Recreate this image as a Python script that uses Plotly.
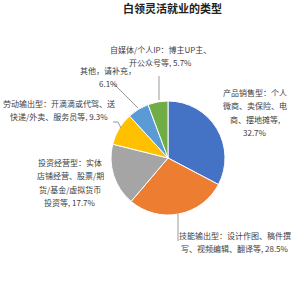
import plotly.graph_objects as go

title = "白领灵活就业的类型"
categories = ["产品销售型", "技能输出型", "投资经营型", "劳动输出型", "其他", "自媒体/个人IP"]
values = [32.7, 28.5, 17.7, 9.3, 6.1, 5.7]
colors = ["#4472C4", "#ED7D31", "#A5A5A5", "#FFC000", "#5B9BD5", "#70AD47"]
label_lines = [
    ["产品销售型：个人", "微商、卖保险、电", "商、摆地摊等,", "{v}%"],
    ["技能输出型：设计作图、稿件撰", "写、视频编辑、翻译等, {v}%"],
    ["投资经营型：实体", "店铺经营、股票/期", "货/基金/虚拟货币", "投资等, {v}%"],
    ["劳动输出型：开滴滴或代驾、送", "快递/外卖、服务员等, {v}%"],
    ["其他，请补充，", "{v}%"],
    ["自媒体/个人IP：博主UP主、", "开公众号等, {v}%"],
]
# label layout (pixel positions of first line centre)
label_pos = [(255, 92), (235, 235), (70, 162), (59, 103), (108, 70), (160, 49)]
leaders = [
    None,
    [(178, 214), (178, 241)],
    None,
    [(113, 122), (118, 122), (121, 128)],
    [(113, 83), (138, 108)],
    [(159, 76), (159, 100)],
]

W = H = 291
cx, cy, r = 168, 158, 57
font = "Noto Sans CJK SC, Noto Sans, sans-serif"

fig = go.Figure(go.Pie(
    labels=categories, values=values, sort=False, direction="clockwise", rotation=0,
    marker=dict(colors=colors, line=dict(color="white", width=1)),
    textinfo="none", hoverinfo="label+percent", showlegend=False,
    domain=dict(x=[(cx - r) / W, (cx + r) / W], y=[1 - (cy + r) / H, 1 - (cy - r) / H]),
))

anns = [dict(text="<b>" + title + "</b>", x=172 / W, y=1 - 8 / H, xref="paper", yref="paper",
             xanchor="center", yanchor="middle", showarrow=False,
             font=dict(size=11, color="#222222", family=font))]
step = 13.5
for lines, v, (px, py) in zip(label_lines, values, label_pos):
    for i, ln in enumerate(lines):
        anns.append(dict(text=ln.format(v=v), x=px / W, y=1 - (py + i * step) / H,
                         xref="paper", yref="paper", xanchor="center", yanchor="middle",
                         showarrow=False,
                         font=dict(size=8, color="#404040", family=font)))
shapes = []
for ld in leaders:
    if not ld:
        continue
    for (x0, y0), (x1, y1) in zip(ld[:-1], ld[1:]):
        shapes.append(dict(type="line", xref="paper", yref="paper",
                           x0=x0 / W, y0=1 - y0 / H, x1=x1 / W, y1=1 - y1 / H,
                           line=dict(color="#808080", width=0.8)))

fig.update_layout(width=W, height=H, margin=dict(l=0, r=0, t=0, b=0),
                  paper_bgcolor="white", plot_bgcolor="white",
                  annotations=anns, shapes=shapes)
fig.write_html("out.html")
